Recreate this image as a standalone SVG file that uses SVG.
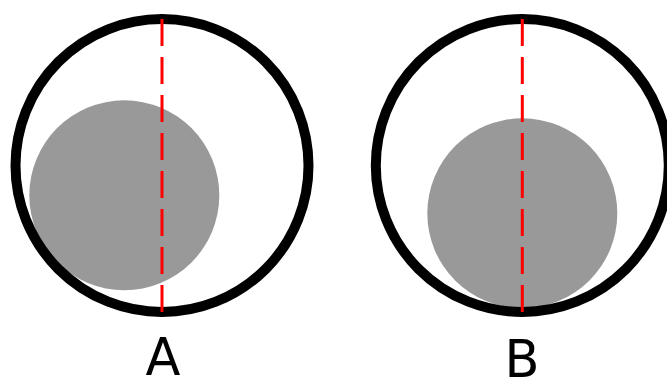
<svg xmlns="http://www.w3.org/2000/svg" width="667" height="380" viewBox="0 0 667 380">
<style>
.ring{fill:none;stroke:#000;stroke-width:10}
.ball{fill:#999999}
.axis{stroke:#ff0000;stroke-width:3;stroke-dasharray:27 11;fill:none}
.lbl{font-family:"DejaVu Sans",sans-serif;font-size:51px;fill:#000;text-anchor:middle}
</style>
<rect width="667" height="380" fill="#fff"/>
<g id="A">
<circle class="ball" cx="124.3" cy="195.3" r="95"/>
<circle class="ring" cx="162" cy="165.5" r="146.5"/>
<line class="axis" x1="162" y1="19" x2="162" y2="312"/>
<text class="lbl" x="163" y="375">A</text>
</g>
<g id="B">
<circle class="ball" cx="522.3" cy="213.3" r="95"/>
<circle class="ring" cx="522.3" cy="165.5" r="146.5"/>
<line class="axis" x1="522.3" y1="19" x2="522.3" y2="312"/>
<text class="lbl" x="522" y="377">B</text>
</g>
</svg>
